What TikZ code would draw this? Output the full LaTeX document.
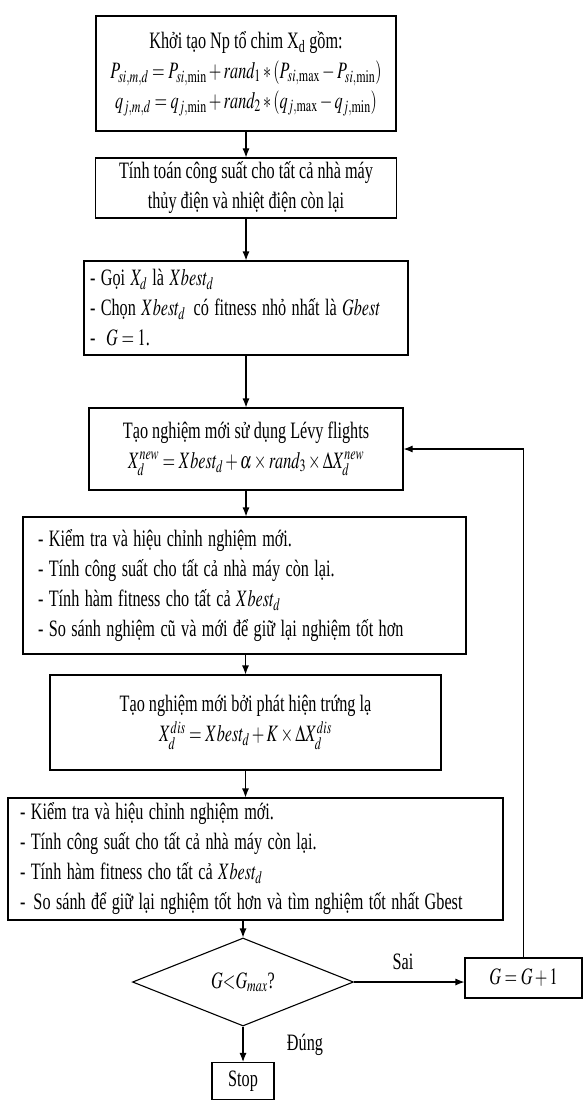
\documentclass[tikz,border=0pt]{standalone}
\usepackage{mathptmx}
\usepackage{fontspec}
\setmainfont{Liberation Serif}
\usepackage{graphicx}
\usetikzlibrary{shapes.geometric,arrows.meta}
\newcommand{\sq}[1]{\scalebox{0.69}[1]{#1}}

\begin{document}
\begin{tikzpicture}[x=1pt,y=1pt,
  main/.style = {draw, line width=1.1pt, inner sep=0pt, font=\fontsize{23.5}{30}\selectfont},
  cbox/.style = {main, align=center},
  lbox/.style = {main, align=left},
  dec/.style = {main, diamond, aspect=2.5},
  lbl/.style = {inner sep=0pt, font=\fontsize{23.5}{30}\selectfont},
  ar/.style = {-{Latex[length=9pt,width=7pt]}, line width=1.1pt}]
\useasboundingbox (0,0) rectangle (586,-1102);
            \node[cbox, minimum width=300pt, minimum height=115pt] (1) at (246,-73.5)
              {\sq{Khởi tạo Np tổ chim X\textsubscript{d} gồm:}\\
               \sq{$P_{si,m,d}=P_{si,\min}+rand_1*(P_{si,\max}-P_{si,\min})$}\\
               \sq{$q_{j,m,d}=q_{j,\min}+rand_2*(q_{j,\max}-q_{j,\min})$}};
            \node[cbox, minimum width=301pt, minimum height=60pt] (2) at (246,-188)
              {\sq{Tính toán công suất cho tất cả nhà máy}\\
               \sq{thủy điện và nhiệt điện còn lại}};
            \node[lbox, minimum width=324pt, minimum height=94pt, text width=312pt, inner xsep=6pt] (3) at (246,-308)
              {\sq{- Gọi $X_d$ là $Xbest_d$}\\
               \sq{- Chọn $Xbest_d$\, có fitness nhỏ nhất là $Gbest$}\\
               \sq{-\ \ $G=1$.}};
            \node[cbox, minimum width=314pt, minimum height=82pt] (4) at (246,-449)
              {\sq{Tạo nghiệm mới sử dụng Lévy flights}\\
               \sq{$X_d^{new}=Xbest_d+\alpha\times rand_3\times\Delta X_d^{new}$}};
            \node[lbox, minimum width=443pt, minimum height=137pt, text width=413pt, inner xsep=15pt] (5) at (244.5,-585.5)
              {\sq{- Kiểm tra và hiệu chỉnh nghiệm mới.}\\
               \sq{- Tính công suất cho tất cả nhà máy còn lại.}\\
               \sq{- Tính hàm fitness cho tất cả $Xbest_d$}\\
               \sq{- So sánh nghiệm cũ và mới để giữ lại nghiệm tốt hơn}};
            \node[cbox, minimum width=391pt, minimum height=95pt] (6) at (245.5,-722.5)
              {\sq{Tạo nghiệm mới bởi phát hiện trứng lạ}\\
               \sq{$X_d^{dis}=Xbest_d+K\times\Delta X_d^{dis}$}};
            \node[lbox, minimum width=495pt, minimum height=122pt, text width=471pt, inner xsep=12pt] (7) at (255.5,-859)
              {\sq{- Kiểm tra và hiệu chỉnh nghiệm mới.}\\
               \sq{- Tính công suất cho tất cả nhà máy còn lại.}\\
               \sq{- Tính hàm fitness cho tất cả $Xbest_d$}\\
               \sq{-\ \,So sánh để giữ lại nghiệm tốt hơn và tìm nghiệm tốt nhất Gbest}};
            \node[dec, minimum width=221pt, minimum height=88pt] (8) at (243,-982)
              {\sq{$G{<}G_{max}$?}};
            \node[cbox, minimum width=117pt, minimum height=40pt] (9) at (523.5,-978)
              {\sq{$G=G+1$}};
            \node[cbox, minimum width=62pt, minimum height=37pt] (10) at (243,-1081)
              {\sq{Stop}};
            \node[lbl] (sai) at (403,-962) {\sq{Sai}};
            \node[lbl] (dung) at (305,-1045) {\sq{Đúng}};
            \draw[ar] (1) -- (2);
            \draw[ar] (2) -- (3);
            \draw[ar] (3) -- (4);
            \draw[ar] (4) -- (5.north -| 4.south);
            \draw[ar] (5.south -| 6.north) -- (6);
            \draw[ar] (6.south) -- (6.south |- 7.north);
            \draw[ar] (8.north |- 7.south) -- (8);
            \draw[ar] (8.east) -- (8.east -| 9.west);
            \draw[ar] (9.north) |- (4.east);
            \draw[ar] (8) -- (10);
        \end{tikzpicture}
\end{document}
